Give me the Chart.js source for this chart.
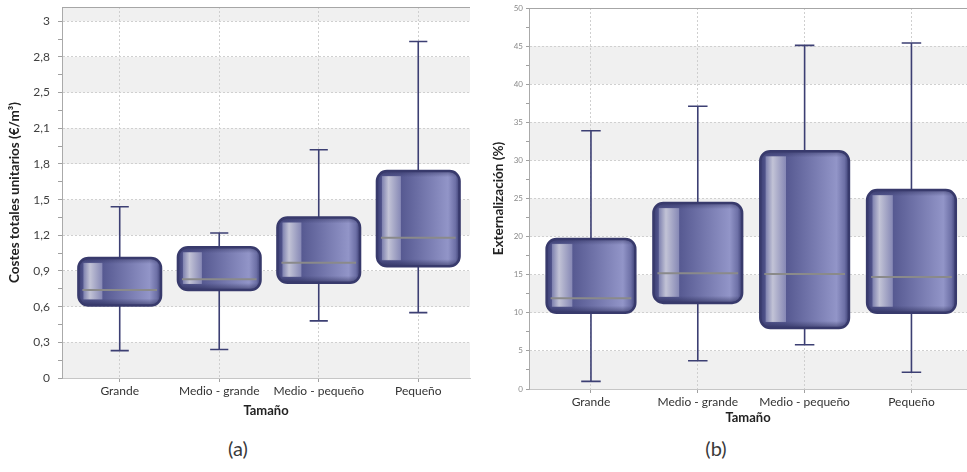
<!DOCTYPE html>
<html>
<head>
<meta charset="utf-8">
<script src="https://cdn.jsdelivr.net/npm/chart.js@4.4.0/dist/chart.umd.min.js"></script>
<style>
    body { margin: 0; background: #fff; width: 967px; height: 472px; overflow: hidden; position: relative; font-family: Lato, sans-serif; }
    .wrap { position: absolute; top: 0; height: 430px; }
    #wrapA { left: 0; width: 480px; }
    #wrapB { left: 480px; width: 487px; }
    .caption { position: absolute; top: 436px; width: 60px; text-align: center; font-size: 20px; color: #3a3a3a; }
</style>
</head>
<body>
<div class="wrap" id="wrapA"><canvas id="chartA"></canvas></div>
<div class="wrap" id="wrapB"><canvas id="chartB"></canvas></div>
<div class="caption" style="left:208px">(a)</div>
<div class="caption" style="left:686px">(b)</div>
<script>
'use strict';
const categories = ['Grande', 'Medio - grande', 'Medio - pequeño', 'Pequeño'];
const positions = [1, 2, 3, 4];

// (a) Costes totales unitarios (€/m³)
const costMin = [0.23, 0.24, 0.48, 0.55];
const costQ1 = [0.61, 0.74, 0.80, 0.94];
const costMedian = [0.74, 0.83, 0.97, 1.18];
const costQ3 = [1.01, 1.10, 1.35, 1.74];
const costMax = [1.44, 1.22, 1.92, 2.83];
const costTicks = ['0', '0,3', '0,6', '0,9', '1,2', '1,5', '1,8', '2,1', '2,5', '2,8', '3'];

// (b) Externalización (%)
const extMin = [1.0, 3.7, 5.8, 2.2];
const extQ1 = [10.0, 11.3, 8.0, 10.0];
const extMedian = [11.9, 15.2, 15.1, 14.7];
const extQ3 = [19.7, 24.4, 31.2, 26.1];
const extMax = [33.9, 37.1, 45.1, 45.4];
const extTicks = ['0', '5', '10', '15', '20', '25', '30', '35', '40', '45', '50'];

//Box look, drawn on the bar elements
function drawBox(ctx, left, top, right, bottom) {
    const w = right - left, h = bottom - top;
    const r = Math.min(10, h / 2);
    ctx.save();
    ctx.beginPath();
    ctx.roundRect(left, top, w, h, r);
    const g = ctx.createLinearGradient(left, 0, right, 0);
    g.addColorStop(0, '#3b3e74');
    g.addColorStop(0.05, '#4e5188');
    g.addColorStop(0.3, '#575a92');
    g.addColorStop(0.86, '#9295c8');
    g.addColorStop(0.95, '#6d70a6');
    g.addColorStop(1, '#3d4075');
    ctx.fillStyle = g;
    ctx.fill();
    ctx.save();
    ctx.clip();
    //highlight stripe
    const sl = left + w * 0.06, sr = left + w * 0.29;
    const sg = ctx.createLinearGradient(sl, 0, sr, 0);
    sg.addColorStop(0, '#7d80ae');
    sg.addColorStop(0.35, '#c2c3d6');
    sg.addColorStop(1, '#8688b5');
    ctx.fillStyle = sg;
    ctx.fillRect(sl, top + 5, sr - sl, h - 11);
    //top / bottom shade
    const vg = ctx.createLinearGradient(0, top, 0, bottom);
    const t = Math.min(0.45, 6 / h), b = Math.min(0.45, 7 / h);
    vg.addColorStop(0, 'rgba(35,37,80,0.45)');
    vg.addColorStop(t, 'rgba(35,37,80,0)');
    vg.addColorStop(1 - b, 'rgba(35,37,80,0)');
    vg.addColorStop(1, 'rgba(35,37,80,0.6)');
    ctx.fillStyle = vg;
    ctx.fillRect(left, top, w, h);
    ctx.restore();
    ctx.lineWidth = 2.5;
    ctx.strokeStyle = '#383a6c';
    ctx.stroke();
    ctx.restore();
}

const boxPlot = {
    id: 'boxPlot',
    beforeDraw(chart, args, opts) {
        const {ctx, chartArea: a, scales: {y}} = chart;
        ctx.save();
        ctx.fillStyle = '#f0f0f0';
        for (let i = 0; i * opts.step < y.max; i += 2) {
            const y1 = y.getPixelForValue(i * opts.step);
            const y2 = y.getPixelForValue(Math.min((i + 1) * opts.step, y.max));
            ctx.fillRect(a.left, y2, a.right - a.left, y1 - y2);
        }
        ctx.restore();
    },
    beforeDatasetsDraw(chart) {
        const {ctx, chartArea: a, scales: {y}} = chart;
        ctx.save();
        ctx.strokeStyle = '#a6a6a6';
        ctx.lineWidth = 1;
        ctx.beginPath();
        ctx.moveTo(a.left, a.top + 0.5);
        ctx.lineTo(a.right, a.top + 0.5);
        ctx.stroke();
        chart.data.datasets.forEach((ds, di) => {
            chart.getDatasetMeta(di).data.forEach((el, i) => {
                const yLo = y.getPixelForValue(ds.whiskerLow[i]);
                const yHi = y.getPixelForValue(ds.whiskerHigh[i]);
                const cap = el.width * 0.11;
                ctx.strokeStyle = '#3c3f73';
                ctx.lineWidth = 1.6;
                ctx.beginPath();
                ctx.moveTo(el.x, yHi);
                ctx.lineTo(el.x, yLo);
                ctx.moveTo(el.x - cap, yHi);
                ctx.lineTo(el.x + cap, yHi);
                ctx.moveTo(el.x - cap, yLo);
                ctx.lineTo(el.x + cap, yLo);
                ctx.stroke();
            });
        });
        ctx.restore();
    },
    afterDatasetsDraw(chart) {
        const {ctx, scales: {y}} = chart;
        chart.data.datasets.forEach((ds, di) => {
            chart.getDatasetMeta(di).data.forEach((el, i) => {
                const l = el.x - el.width / 2, r = el.x + el.width / 2;
                drawBox(ctx, l, Math.min(el.y, el.base), r, Math.max(el.y, el.base));
                const ym = y.getPixelForValue(ds.median[i]);
                ctx.save();
                ctx.strokeStyle = '#8a8a8a';
                ctx.lineWidth = 2;
                ctx.beginPath();
                ctx.moveTo(l + 4, ym);
                ctx.lineTo(r - 4, ym);
                ctx.stroke();
                ctx.restore();
            });
        });
    }
};

function makeChart(id, p) {
    const half = [];
    for (let i = 0; i <= 2 * (p.labels.length - 1); i++) half.push(i * p.step / 2);
    return new Chart(document.getElementById(id), {
        type: 'bar',
        data: {
            datasets: [{
                data: positions.map((x, i) => ({x: x, y: [p.q1[i], p.q3[i]]})),
                backgroundColor: 'rgba(0,0,0,0)',
                borderWidth: 0,
                categoryPercentage: 1,
                barPercentage: 0.83,
                median: p.median,
                whiskerLow: p.low,
                whiskerHigh: p.high
            }]
        },
        options: {
            responsive: true,
            maintainAspectRatio: false,
            animation: false,
            layout: {padding: {top: p.top, right: p.right, left: 0, bottom: 0}},
            plugins: {
                legend: {display: false},
                tooltip: {enabled: false},
                boxPlot: {step: p.step}
            },
            scales: {
                x: {
                    type: 'linear',
                    min: 0.42,
                    max: 4.52,
                    offset: false,
                    afterBuildTicks: ax => { ax.ticks = positions.map(v => ({value: v})); },
                    ticks: {
                        autoSkip: false,
                        maxRotation: 0,
                        padding: 2,
                        color: '#333',
                        font: {family: 'Lato', size: 12},
                        callback: v => categories[v - 1]
                    },
                    grid: {offset: false, color: '#cfcfcf', tickColor: '#a0a0a0', tickLength: 4},
                    border: {color: '#c6c6c6', dash: [2, 2]},
                    title: {
                        display: true,
                        text: 'Tamaño',
                        color: '#222',
                        font: {family: 'Lato', size: 13, weight: 'bold'},
                        padding: {top: 0, bottom: p.xTitlePad}
                    },
                    afterFit: ax => { ax.height = p.xHeight; ax.paddingLeft = 0; ax.paddingRight = 0; }
                },
                y: {
                    min: 0,
                    max: p.max,
                    afterBuildTicks: ax => { ax.ticks = half.map(v => ({value: v})); },
                    ticks: {
                        autoSkip: false,
                        padding: p.tickPad,
                        color: p.tickColor,
                        font: {family: 'Lato', size: p.tickSize},
                        callback: (v, i) => (i % 2 ? '' : p.labels[i / 2])
                    },
                    grid: {
                        color: c => (c.index % 2 ? 'rgba(0,0,0,0)' : '#d0d0d0'),
                        tickColor: '#a0a0a0',
                        tickLength: p.tickLen
                    },
                    border: {color: '#aaaaaa', dash: [2, 2]},
                    title: {
                        display: true,
                        text: p.title,
                        color: '#222',
                        font: {family: 'Lato', size: 13.5, weight: 'bold'},
                        padding: {top: p.yTitlePad, bottom: 0}
                    },
                    afterFit: ax => { ax.width = p.yWidth; ax.paddingTop = 0; ax.paddingBottom = 0; }
                }
            }
        },
        plugins: [boxPlot]
    });
}

makeChart('chartA', {
    q1: costQ1, q3: costQ3, median: costMedian, low: costMin, high: costMax,
    labels: costTicks, step: 0.3, max: 3.12,
    title: 'Costes totales unitarios (€/m³)',
    top: 7, right: 10, xHeight: 52, xTitlePad: 11, yWidth: 62, yTitlePad: 7,
    tickPad: 8, tickLen: 4, tickSize: 12, tickColor: '#404040'
});

makeChart('chartB', {
    q1: extQ1, q3: extQ3, median: extMedian, low: extMin, high: extMax,
    labels: extTicks, step: 5, max: 50,
    title: 'Externalización (%)',
    top: 8, right: 0, xHeight: 41, xTitlePad: 4, yWidth: 49, yTitlePad: 11,
    tickPad: 3, tickLen: 3, tickSize: 8, tickColor: '#8a8a8a'
});
</script>
</body>
</html>
